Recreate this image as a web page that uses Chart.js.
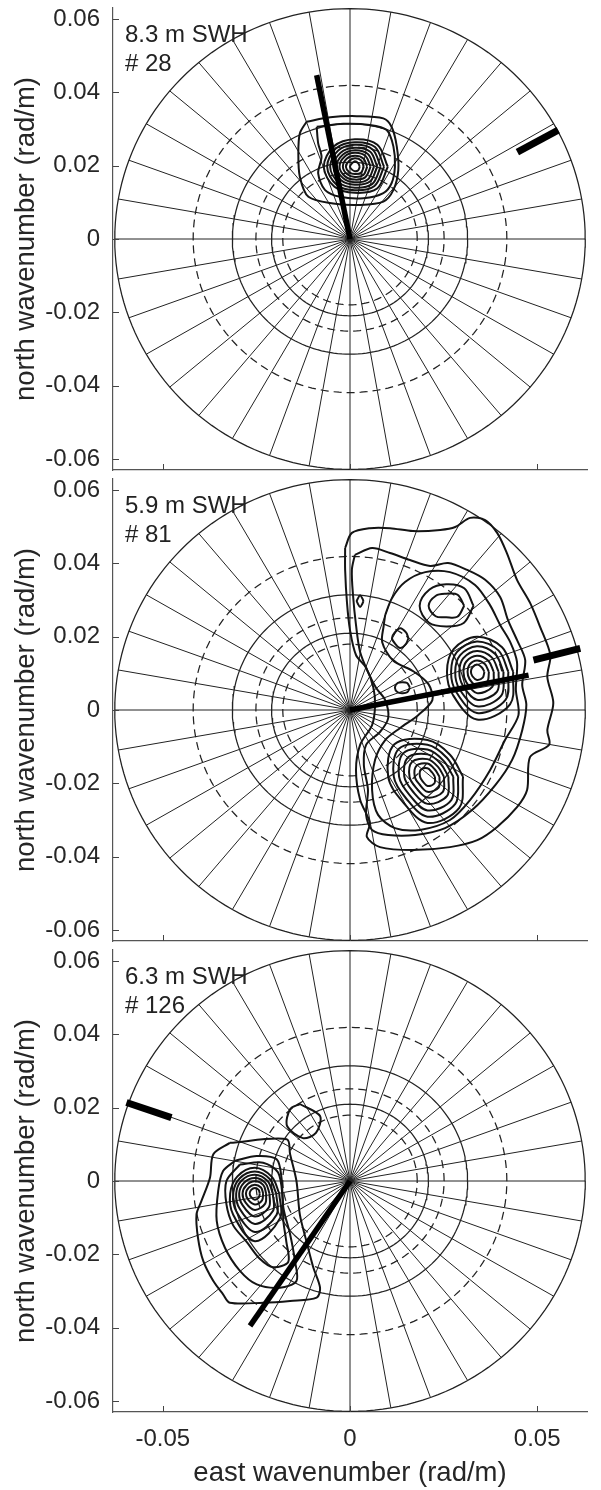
<!DOCTYPE html>
<html>
<head>
<meta charset="utf-8">
<script src="https://cdn.jsdelivr.net/npm/chart.js@4.4.1/dist/chart.umd.min.js"></script>
<style>
  html, body { margin: 0; padding: 0; background: #fff; }
  body { width: 601px; height: 1490px; position: relative; overflow: hidden; font-family: "Liberation Sans", Arial, sans-serif; }
  .panel { position: absolute; left: 0; width: 601px; }
  .note { position: absolute; left: 125px; font-size: 24px; line-height: 29px; color: #222; white-space: nowrap; }
</style>
</head>
<body>
<div class="panel" style="top:0px;height:480px"><canvas id="p1" width="601" height="480"></canvas></div>
<div class="panel" style="top:471px;height:480px"><canvas id="p2" width="601" height="480"></canvas></div>
<div class="panel" style="top:942px;height:548px"><canvas id="p3" width="601" height="548"></canvas></div>
<div class="note" id="n1" style="top:19px"></div>
<div class="note" id="n2" style="top:490px"></div>
<div class="note" id="n3" style="top:961px"></div>
<script>
// Polar wavenumber spectra, three cases

// grid: circles at these wavelengths (m), every other one dashed; spokes every 10 deg
const circleWavelengths = [100, 150, 200, 250, 300, 350];
const circleDashed = [false, true, false, true, false, true];
const spokeStepDeg = 10;

const xTicks = [-0.05, 0, 0.05];
const yTicks = [-0.06, -0.04, -0.02, 0, 0.02, 0.04, 0.06];
const xLimit = 0.0633;
const yLimit = 0.063;

const swhLabels = ['8.3 m SWH', '5.9 m SWH', '6.3 m SWH'];
const caseLabels = ['# 28', '# 81', '# 126'];

// contour lines: x,y pairs in 1e-3 rad/m
const p1Lines = [
  [-11.6,32.0, -5.3,33.2, 1.8,33.5, 8.9,32.9, 11.1,30.6, 12.5,25.2, 12.9,18.8, 11.6,13.4, 8.9,10.2, 2.7,9.3, -4.5,9.7, -11.1,11.5, -13.4,17.0, -13.8,23.4, -13.4,28.8],
  [-8.9,30.6, -1.8,31.4, 5.3,31.1, 9.8,29.7, 11.6,25.2, 12.0,19.7, 11.1,15.2, 8.9,12.5, 3.6,11.1, -2.7,11.5, -6.7,13.4, -8.5,17.9, -7.6,22.4, -8.5,26.1]
];
// nested contours: centre, then radius towards E, NE, N, NW, W, SW, S, SE (1e-3 rad/m)
const p1Rings = [
  { c: [1.3, 19.7], r: [8.8, 8.5, 7.5, 7.9, 8.3, 7.7, 7.1, 8.4] },
  { c: [1.3, 19.7], r: [7.8, 7.6, 6.7, 7.1, 7.4, 6.9, 6.4, 7.4] },
  { c: [1.3, 19.7], r: [6.9, 6.7, 6.0, 6.3, 6.6, 6.1, 5.7, 6.6] },
  { c: [1.3, 19.7], r: [6.0, 5.8, 5.2, 5.4, 5.7, 5.2, 4.9, 5.7] },
  { c: [1.3, 19.7], r: [5.1, 4.9, 4.5, 4.6, 4.9, 4.4, 4.2, 4.9] },
  { c: [1.3, 19.7], r: [4.2, 4.1, 3.8, 3.9, 4.1, 3.7, 3.5, 4.0] },
  { c: [1.3, 19.7], r: [3.3, 3.2, 3.0, 3.1, 3.2, 2.9, 2.8, 3.2] },
  { c: [1.3, 19.7], r: [2.4, 2.4, 2.3, 2.2, 2.4, 2.1, 2.0, 2.3] },
  { c: [1.3, 19.7], r: [1.3, 1.3, 1.5, 1.2, 1.3, 1.1, 1.2, 1.3] }
];
// mean direction line and swell marker: [x0, y0, x1, y1] in 1e-3 rad/m
const p1Direction = [0, 0, -8.9, 44.7];
const p1Swell = [44.7, 23.7, 55.6, 29.7];

const p2Lines = [
  [-1.3,44.2, 0.5,48.3, 5.3,49.6, 10.7,49.6, 16.8,48.8, 24.1,49.1, 28.1,49.9, 32.1,52.4, 36.1,51.8, 39.3,48.3, 41.9,42.8, 44.6,35.5, 48.1,29.2, 50.8,22.6, 53.5,15.0, 52.7,9.0, 54.3,1.9, 52.7,-5.5, 53.2,-9.5, 48.1,-12.8, 47.3,-21.8, 44.6,-26.5, 39.3,-31.9, 34.0,-35.5, 26.7,-37.4, 16.8,-38.2, 8.0,-37.4, 4.5,-34.6, 5.3,-30.8, 2.7,-24.5, 1.6,-16.4, 2.7,-9.5, 5.9,-4.1, 6.7,1.4, 6.2,6.3, 4.3,11.5, 1.6,15.0, 0,21.8, -0.8,29.2, -1.3,38.2],
  [1.3,42.3, 5.9,44.2, 10.7,42.8, 16.0,40.9, 21.4,39.3, 26.2,40.1, 31.3,38.2, 36.1,35.5, 40.1,30.8, 42.2,24.5, 44.6,19.1, 46.8,13.6, 46.0,6.8, 47.1,1.4, 46.0,-5.5, 43.3,-13.6, 38.8,-20.5, 32.6,-27.3, 25.4,-32.2, 17.4,-34.1, 10.2,-34.1, 5.9,-32.7, 4.3,-28.6, 4.8,-21.8, 3.7,-15.0, 4.3,-9.5, 8.0,-6.0, 10.2,-2.2, 9.4,2.7, 7.0,6.0, 4.8,10.4, 2.7,15.8, 1.6,23.2, 0.8,31.4, 0.5,38.2],
  [9.4,25.9, 11.2,30.5, 14.7,34.9, 20.1,37.6, 26.7,37.6, 33.4,34.1, 37.4,28.6, 40.1,23.2, 42.8,18.5, 44.6,13.1, 44.3,5.5, 45.0,-1.4, 41.4,-8.2, 37.4,-16.4, 32.1,-24.5, 26.7,-30.0, 18.7,-32.7, 12.0,-32.2, 7.5,-28.6, 5.9,-21.8, 6.7,-13.6, 9.4,-8.2, 13.4,-4.9, 18.2,-1.4, 22.0,2.7, 21.0,7.0, 17.0,10.5, 11.5,13.5, 8.6,18.5, 9.0,23.0]
];
const p2Rings = [
  { c: [25.7, 28.4], r: [7.3, 6.8, 5.9, 6.3, 7.1, 6.5, 5.6, 6.6] },
  { c: [25.7, 28.4], r: [4.8, 4.3, 3.3, 3.9, 4.7, 4.0, 3.1, 4.2] },
  { c: [33.9, 10.4], r: [9.7, 9.5, 9.6, 8.8, 8.0, 9.0, 13.0, 12.5] },
  { c: [33.9, 10.4], r: [8.4, 8.2, 8.3, 7.6, 6.9, 7.8, 11.2, 10.8] },
  { c: [33.9, 10.4], r: [7.1, 6.9, 7.0, 6.4, 5.8, 6.6, 9.4, 9.2] },
  { c: [33.9, 10.4], r: [5.8, 5.6, 5.7, 5.2, 4.7, 5.3, 7.6, 7.6] },
  { c: [33.9, 10.4], r: [4.5, 4.3, 4.4, 4.0, 3.6, 4.0, 5.8, 5.8] },
  { c: [33.9, 10.4], r: [3.2, 3.0, 3.1, 2.8, 2.5, 2.8, 3.8, 3.9] },
  { c: [33.9, 10.4], r: [2.0, 1.8, 2.0, 1.7, 1.6, 1.7, 2.2, 2.2] },
  { c: [20.7, -18.2], r: [9.5, 8.5, 10.0, 12.5, 10.5, 9.5, 12.6, 12.0] },
  { c: [20.7, -18.2], r: [8.2, 7.3, 8.7, 10.8, 9.0, 8.2, 10.9, 10.5] },
  { c: [20.7, -18.2], r: [6.9, 6.1, 7.4, 9.1, 7.6, 6.9, 9.2, 9.0] },
  { c: [20.7, -18.2], r: [5.6, 5.0, 6.1, 7.4, 6.2, 5.6, 7.4, 7.4] },
  { c: [20.7, -18.2], r: [4.4, 3.9, 4.8, 5.8, 4.8, 4.3, 5.7, 5.8] },
  { c: [20.7, -18.2], r: [3.2, 2.8, 3.6, 4.2, 3.4, 3.0, 4.1, 4.2] },
  { c: [20.7, -18.2], r: [2.0, 1.7, 2.3, 2.6, 2.0, 1.8, 2.5, 2.6] },
  { c: [2.7, 29.7], r: [0.9, 0.9, 1.6, 0.9, 0.9, 0.9, 1.6, 0.9] },
  { c: [13.4, 19.6], r: [2.2, 2.2, 2.7, 2.1, 2.2, 2.0, 2.7, 2.2] },
  { c: [14.0, 6.1], r: [2.0, 1.8, 1.5, 1.8, 2.0, 1.8, 1.5, 1.8] }
];
const p2Direction = [0, 0, 47.7, 9.5];
const p2Swell = [49.0, 13.6, 61.5, 16.8];

const p3Lines = [
  [-32.1,10.4, -16.9,11.4, -16.0,7.3, -14.3,0, -13.4,-9.1, -11.6,-16.6, -9.8,-23.6, -8.0,-29.1, -8.9,-31.8, -16.0,-32.7, -23.2,-33.2, -32.1,-33.2, -33.9,-30.9, -36.5,-27.3, -39.2,-21.8, -40.6,-15.5, -41.0,-9.1, -39.7,-5.5, -37.4,0.9, -36.5,7.3],
  [-30.7,5.5, -24.9,6.8, -19.6,5.9, -18.3,0.9, -17.8,-7.3, -16.0,-14.5, -14.7,-21.8, -14.3,-27.3, -18.7,-29.1, -24.9,-28.2, -29.4,-24.5, -33.4,-18.2, -35.6,-10.9, -35.2,-2.7, -33.9,2.7],
  [-29.4,4.5, -23.2,5.0, -19.2,2.3, -18.0,-4.5, -17.8,-10.9, -17.0,-16.6, -16.5,-22.1, -20.5,-23.5, -24.1,-21.2, -27.6,-16.6, -31.2,-12.1, -33.0,-6.4, -33.0,0],
  [-13.4,21.0, -8.0,17.7, -9.1,13.1, -12.6,11.7, -16.8,15.0, -16.0,19.6]
];
const p3Rings = [
  { c: [-25.4, -3.4], r: [6.5, 6.4, 7.0, 6.6, 6.6, 8.2, 13.0, 9.5] },
  { c: [-25.4, -3.4], r: [5.7, 5.6, 6.0, 5.8, 5.8, 7.0, 10.5, 8.2] },
  { c: [-25.4, -3.4], r: [4.8, 4.8, 5.1, 5.0, 5.0, 5.8, 8.3, 6.8] },
  { c: [-25.4, -3.4], r: [3.9, 4.0, 4.2, 4.1, 4.2, 4.6, 6.3, 5.3] },
  { c: [-25.4, -3.4], r: [3.0, 3.2, 3.3, 3.2, 3.3, 3.5, 4.5, 3.9] },
  { c: [-25.4, -3.4], r: [2.2, 2.3, 2.4, 2.3, 2.4, 2.5, 3.0, 2.7] },
  { c: [-25.4, -3.4], r: [1.3, 1.4, 1.5, 1.4, 1.4, 1.4, 1.7, 1.5] }
];
const p3Direction = [0, 0, -26.7, -39.5];
const p3Swell = [-59.7, 21.4, -47.7, 17.3];

Chart.defaults.font.family = '"Liberation Sans", Arial, sans-serif';
Chart.defaults.color = '#262626';

const MILLI = 1000;
const lineColor = '#141414';

function pairsToPoints(arr, close) {
  const pts = [];
  for (let i = 0; i < arr.length; i += 2) pts.push({ x: arr[i] / MILLI, y: arr[i + 1] / MILLI });
  if (close) pts.push(pts[0]);
  return pts;
}

function ringToPoints(ring) {
  const pts = ring.r.map((r, i) => {
    const a = i * Math.PI / 4;
    return { x: (ring.c[0] + r * Math.cos(a)) / MILLI, y: (ring.c[1] + r * Math.sin(a)) / MILLI };
  });
  pts.push(pts[0]);
  return pts;
}

function lineSet(points, opts) {
  return Object.assign({
    data: points, showLine: true, fill: false, pointRadius: 0, pointHoverRadius: 0,
    borderColor: lineColor, borderWidth: 1, tension: 0, order: 3
  }, opts);
}

// polar grid built from the wavelength list
function gridSets() {
  const sets = [];
  const rOuter = 2 * Math.PI / circleWavelengths[0];
  for (let deg = 0; deg < 180; deg += spokeStepDeg) {
    const a = deg * Math.PI / 180;
    sets.push(lineSet([
      { x: -rOuter * Math.cos(a), y: -rOuter * Math.sin(a) },
      { x: rOuter * Math.cos(a), y: rOuter * Math.sin(a) }
    ], { borderColor: '#222', borderWidth: 1, order: 4 }));
  }
  circleWavelengths.forEach((wl, i) => {
    const k = 2 * Math.PI / wl;
    const pts = [];
    for (let j = 0; j <= 180; j++) {
      const a = j * 2 * Math.PI / 180;
      pts.push({ x: k * Math.cos(a), y: k * Math.sin(a) });
    }
    sets.push(lineSet(pts, {
      borderColor: '#222', borderWidth: 1.25, order: 4,
      borderDash: circleDashed[i] ? [8, 5] : []
    }));
  });
  return sets;
}

const inwardTicks = {
  id: 'inwardTicks',
  afterDatasetsDraw(chart) {
    const { ctx, chartArea: area, scales: { x, y } } = chart;
    ctx.save();
    ctx.strokeStyle = '#444';
    ctx.lineWidth = 1;
    ctx.beginPath();
    yTicks.forEach(v => {
      const py = Math.round(y.getPixelForValue(v)) + 0.5;
      ctx.moveTo(area.left, py);
      ctx.lineTo(area.left + 6, py);
    });
    xTicks.forEach(v => {
      const px = Math.round(x.getPixelForValue(v)) + 0.5;
      ctx.moveTo(px, area.bottom);
      ctx.lineTo(px, area.bottom - 6);
    });
    ctx.stroke();
    ctx.restore();
  }
};

function makePanel(id, lines, rings, dir, swell, showX) {
  const canvas = document.getElementById(id);
  const h = canvas.height;
  const datasets = gridSets();
  lines.forEach(l => datasets.push(lineSet(pairsToPoints(l, true), { borderWidth: 2, tension: 0.3, order: 2 })));
  rings.forEach(r => datasets.push(lineSet(ringToPoints(r), { borderWidth: 2, tension: 0.35, order: 2 })));
  datasets.push(lineSet(pairsToPoints(dir, false), { borderColor: '#000', borderWidth: 5.5, order: 1 }));
  datasets.push(lineSet(pairsToPoints(swell, false), { borderColor: '#000', borderWidth: 7, order: 1 }));

  return new Chart(canvas, {
    type: 'scatter',
    data: { datasets: datasets },
    plugins: [inwardTicks],
    options: {
      responsive: false,
      animation: false,
      events: [],
      layout: { padding: { top: 8, right: 14, left: 0, bottom: 0 } },
      plugins: { legend: { display: false }, tooltip: { enabled: false } },
      scales: {
        x: {
          type: 'linear', min: -xLimit, max: xLimit,
          afterBuildTicks: s => { s.ticks = xTicks.map(v => ({ value: v })); },
          afterFit: s => { s.height = h - 8 - 462; s.paddingLeft = 0; s.paddingRight = 0; },
          grid: { display: false, drawTicks: false },
          border: { display: true, color: '#555', width: 1.2 },
          ticks: {
            display: showX, padding: 13, font: { size: 24 }, color: '#262626',
            callback: v => (v === 0 ? '0' : v.toFixed(2))
          },
          title: {
            display: showX, text: 'east wavenumber (rad/m)', font: { size: 27.5 },
            color: '#262626', padding: { top: 0, bottom: 0 }
          }
        },
        y: {
          type: 'linear', min: -yLimit, max: yLimit,
          afterBuildTicks: s => { s.ticks = yTicks.map(v => ({ value: v })); },
          afterFit: s => { s.width = 113; s.paddingTop = 0; s.paddingBottom = 0; },
          grid: { display: false, drawTicks: false },
          border: { display: true, color: '#555', width: 1.2 },
          ticks: {
            padding: 13, font: { size: 24 }, color: '#262626',
            callback: v => (v === 0 ? '0' : v.toFixed(2))
          },
          title: {
            display: true, text: 'north wavenumber (rad/m)', font: { size: 27.5 },
            color: '#262626', padding: { top: 10, bottom: 0 }
          }
        }
      }
    }
  });
}

makePanel('p1', p1Lines, p1Rings, p1Direction, p1Swell, false);
makePanel('p2', p2Lines, p2Rings, p2Direction, p2Swell, false);
makePanel('p3', p3Lines, p3Rings, p3Direction, p3Swell, true);

['n1', 'n2', 'n3'].forEach((id, i) => {
  const el = document.getElementById(id);
  el.innerHTML = swhLabels[i] + '<br>' + caseLabels[i];
});
</script>
</body>
</html>
